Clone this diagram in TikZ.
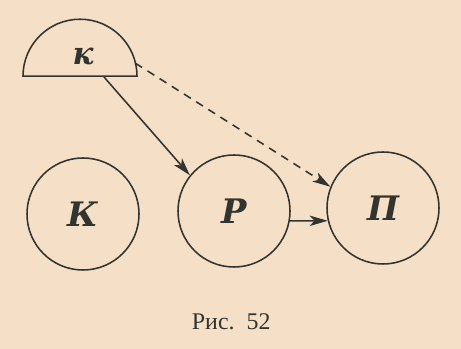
\documentclass[tikz,border=0pt]{standalone}
\usepackage{fontspec}
\setmainfont{Liberation Serif}
\newfontfamily\letterfont{DejaVu Serif}
\usetikzlibrary{shapes.geometric,arrows.meta,calc}
\definecolor{paper}{RGB}{245,223,198}
\definecolor{ink}{RGB}{50,52,48}

\begin{document}
\begin{tikzpicture}[line width=1.1pt,draw=ink,
  every node/.style={text=ink},
  blob/.style={circle,draw=ink,line width=1.1pt,minimum size=2.8cm,inner sep=0pt,
    font=\letterfont\fontsize{24}{26}\selectfont\bfseries\itshape},
  arr/.style={ink,-{Stealth[length=4.5mm,width=2.6mm,inset=1.2mm]}}]
\fill[paper] (0,0) rectangle (11.525,8.725);
\useasboundingbox (0,0) rectangle (11.525,8.725);
% half disc at the top
\node[semicircle,draw=ink,line width=1.1pt,minimum width=2.85cm,inner sep=0pt,anchor=chord center] (kap) at (2.0,6.8) {};
\node[font=\letterfont\fontsize{22}{24}\selectfont\bfseries\itshape] (kapl) at (2.08,7.32) {к};
% the three discs
\node[blob] (K) at (2.075,3.375) {К};
\node[blob] (R) at (5.85,3.45) {Р};
\node[blob] (Pi) at (9.575,3.525) {П};
% arrows
\draw[arr] ($(kap.chord center)+(0.6,0)$) -- (R.141);
\draw[arr,dash pattern=on 2mm off 1.6mm] ($(kap.chord center)+(14:1.425)$) -- (Pi.158);
\draw[arr] (R.-10) -- (Pi.193);
\node[font=\fontsize{17}{19}\selectfont] (cap) at (5.78,0.68) {Рис.~~52};
\end{tikzpicture}
\end{document}
